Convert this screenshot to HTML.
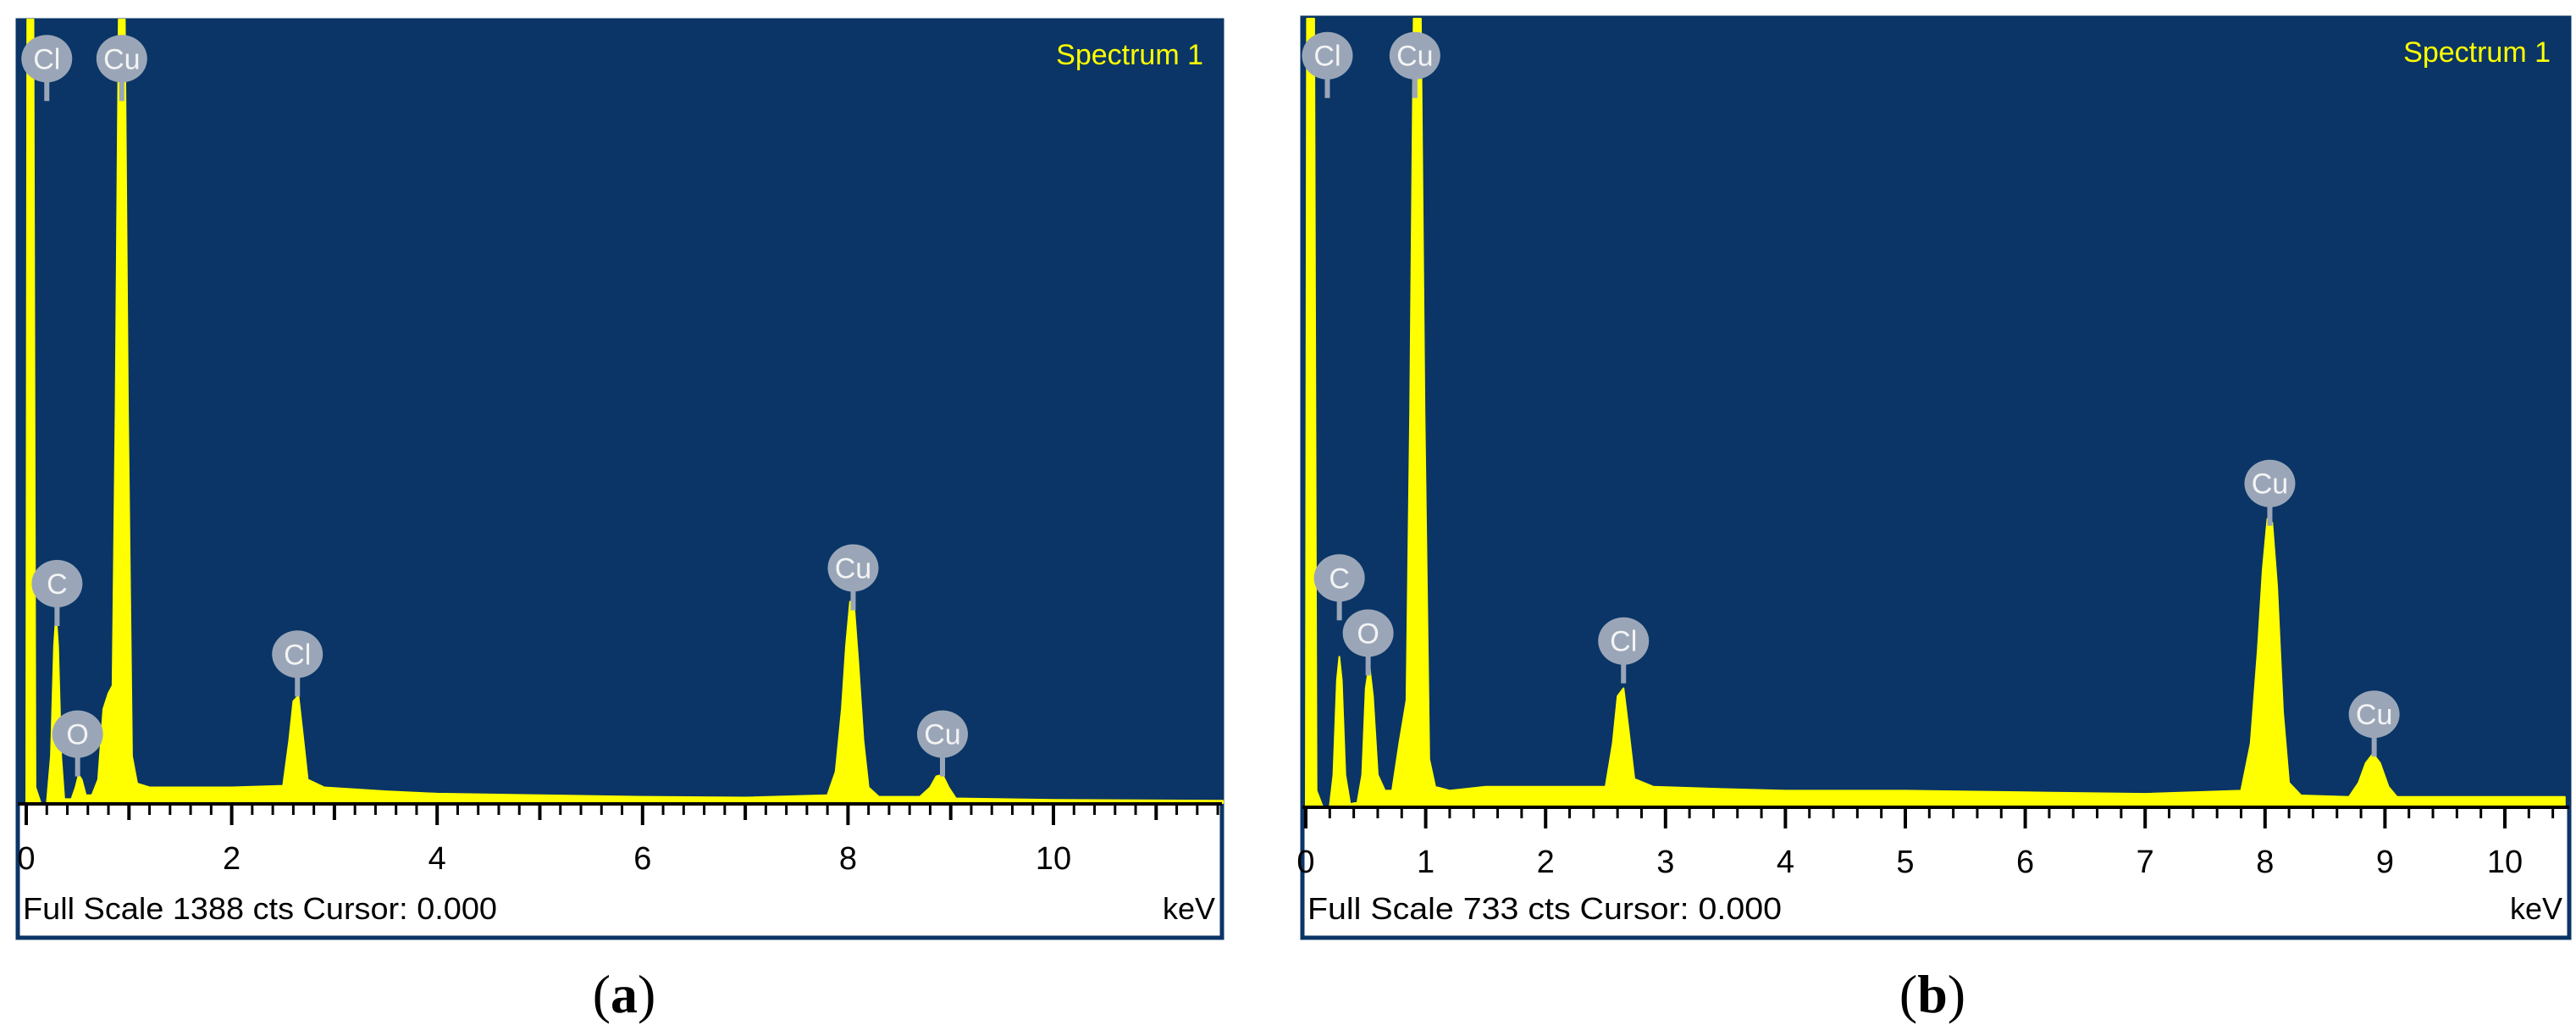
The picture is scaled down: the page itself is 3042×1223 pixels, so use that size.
<!DOCTYPE html>
<html><head><meta charset="utf-8"><style>
html,body{margin:0;padding:0;background:#fff;}
svg{display:block;}
</style></head><body>
<svg id="fig" width="3042" height="1223" viewBox="0 0 3042 1223" xmlns="http://www.w3.org/2000/svg"></svg>
<script>
// ---- Panel (a) data ----
const kevA = [0,0.01,0.07,0.09,0.14,0.2,0.24,0.27,0.29,0.31,0.34,0.37,0.44,0.48,0.51,0.54,0.58,0.64,0.7,0.75,0.8,0.84,0.87,0.9,0.96,0.99,1.03,1.08,1.2,2.0,2.5,2.56,2.6,2.65,2.69,2.74,2.9,3.5,4,5,6,7,7.8,7.88,7.94,7.98,8.02,8.06,8.1,8.15,8.2,8.3,8.7,8.8,8.86,8.92,8.98,9.05,10,11.65];
const cntA = [0,1,1,0.02,0,0,0.06,0.2,0.24,0.2,0.06,0.005,0.005,0.02,0.036,0.03,0.01,0.01,0.03,0.12,0.14,0.15,0.5,1,1,0.5,0.06,0.025,0.02,0.02,0.022,0.08,0.13,0.137,0.09,0.03,0.02,0.015,0.012,0.01,0.008,0.007,0.01,0.04,0.12,0.2,0.257,0.25,0.18,0.08,0.02,0.008,0.008,0.02,0.034,0.036,0.02,0.006,0.004,0.003];
const labElA = ["Cl","Cu","C","O","Cl","Cu","Cu"];
const labKevA = [0.2,0.93,0.3,0.5,2.64,8.05,8.92];
const labYA = [0.95,0.95,0.28,0.088,0.19,0.30,0.088];
const ticksA = [0,2,4,6,8,10];
// ---- Panel (b) data ----
const kevB = [0,0.01,0.07,0.09,0.14,0.2,0.23,0.26,0.28,0.3,0.33,0.37,0.43,0.47,0.5,0.53,0.56,0.6,0.66,0.72,0.78,0.84,0.87,0.9,0.96,0.99,1.03,1.08,1.2,1.5,2.0,2.5,2.56,2.6,2.65,2.69,2.74,2.9,3.5,4,5,6,7,7.8,7.88,7.94,7.98,8.02,8.06,8.1,8.15,8.2,8.3,8.7,8.78,8.84,8.9,8.96,9.03,9.1,10,10.5];
const cntB = [0,1,1,0.02,0,0,0.04,0.16,0.19,0.16,0.04,0.003,0.005,0.04,0.15,0.18,0.14,0.04,0.02,0.02,0.08,0.135,0.5,1,1,0.5,0.06,0.025,0.02,0.025,0.025,0.025,0.08,0.14,0.15,0.1,0.035,0.025,0.022,0.02,0.02,0.018,0.016,0.02,0.08,0.2,0.3,0.365,0.36,0.28,0.12,0.03,0.014,0.012,0.03,0.055,0.067,0.055,0.025,0.012,0.012,0.012];
const labElB = ["Cl","Cu","C","O","Cl","Cu","Cu"];
const labKevB = [0.18,0.91,0.28,0.52,2.65,8.04,8.91];
const labYB = [0.953,0.953,0.29,0.22,0.21,0.41,0.117];
const ticksB = [0,1,2,3,4,5,6,7,8,9,10];

const NS="http://www.w3.org/2000/svg";
const svg=document.getElementById('fig');
function mk(tag,attrs,parent){const e=document.createElementNS(NS,tag);for(const k in attrs)e.setAttribute(k,attrs[k]);(parent||svg).appendChild(e);return e;}

function panel(o){
  const g=mk('g',{});
  
  
  const x=v=>o.x0+(v)*o.kpx;
  const y=v=>o.base-v*o.h;
  const fr=mk('rect',{x:o.fx,y:o.fy,width:o.fw,height:o.fh,fill:'#fff',stroke:'#0a3566','stroke-width':5},g);
  
  
  const pl=mk('rect',{x:o.fx,y:o.fy,width:o.fw,height:o.base-o.fy,fill:'#0a3566'},g);
  
  
  let d='M'+x(o.kev[0])+','+o.base;
  for(let i=0;i<o.kev.length;i++){d+=' L'+x(o.kev[i]).toFixed(1)+','+y(o.cnt[i]).toFixed(1);}
  d+=' L'+x(o.kev[o.kev.length-1])+','+o.base+' Z';
  const sp=mk('path',{d:d,fill:'#ffff00',stroke:'#ffff00','stroke-width':2,'stroke-linejoin':'round'},g);
  
  
  const ax=mk('line',{x1:o.fx,x2:o.fx+o.fw,y1:o.base+1,y2:o.base+1,stroke:'#000','stroke-width':4},g);
  
  
  const n=Math.floor(o.kmax/0.2+1e-6);
  for(let i=0;i<=n;i++){
    const k=i*0.2; const major=Math.abs(k-Math.round(k))<1e-6;
    const len=major?(Math.round(k)%o.lstep===0?26:20):14;
    const t=mk('line',{x1:x(k),x2:x(k),y1:o.base,y2:o.base+len,stroke:'#000','stroke-width':major?4:3},g);
    
    
  }
  o.ticks.forEach(v=>{
    const t=mk('text',{x:x(v),y:o.base+78,'font-family':'Liberation Sans, sans-serif','font-size':38,'text-anchor':'middle',fill:'#000'},g);
    t.textContent=v;
    
    
  });
  const fs=mk('text',{x:o.fx+6,y:o.fy+o.fh-22,'font-family':'Liberation Sans, sans-serif','font-size':36,fill:'#000',textLength:o.fsw,lengthAdjust:'spacingAndGlyphs'},g);
  fs.textContent=o.fsText;
  
  
  const kv=mk('text',{x:o.fx+o.fw-8,y:o.fy+o.fh-22,'font-family':'Liberation Sans, sans-serif','font-size':36,'text-anchor':'end',fill:'#000'},g);
  kv.textContent='keV';
  
  
  const st=mk('text',{x:o.fx+o.fw-22,y:o.fy+52,'font-family':'Liberation Sans, sans-serif','font-size':34,'text-anchor':'end',fill:'#ffff00'},g);
  st.textContent='Spectrum 1';
  
  
  for(let i=0;i<o.labEl.length;i++){
    const cx=x(o.labKev[i]), cy=y(o.labY[i]);
    const lg=mk('g',{},g);
    
    
    mk('rect',{x:cx-3,y:cy+20,width:6,height:30,fill:'#9aa6b8'},lg);
    mk('ellipse',{cx:cx,cy:cy,rx:30,ry:28,fill:'#9aa6b8'},lg);
    const tt=mk('text',{x:cx,y:cy+12,'font-family':'Liberation Sans, sans-serif','font-size':34,'text-anchor':'middle',fill:'#f4f4f4'},lg);
    tt.textContent=o.labEl[i];
  }
  const cap=mk('text',{x:o.capx,y:1195,'font-family':'Liberation Serif, serif','font-size':64,'text-anchor':'middle',fill:'#000'},svg);
  cap.innerHTML='(<tspan font-weight="bold">'+o.cap+'</tspan>)';
  
  
}

panel({name:'panel-a',fx:21,fy:24,fw:1422,fh:1083,x0:31,kpx:121.3,base:948,h:925,kmax:11.6,lstep:2,
  kev:kevA,cnt:cntA,labEl:labElA,labKev:labKevA,labY:labYA,ticks:ticksA,fsText:'Full Scale 1388 cts Cursor: 0.000',fsw:560,capx:737,cap:'a'});
panel({name:'panel-b',fx:1538,fy:21,fw:1496,fh:1086,x0:1542,kpx:141.6,base:952,h:930,kmax:10.4,lstep:1,
  kev:kevB,cnt:cntB,labEl:labElB,labKev:labKevB,labY:labYB,ticks:ticksB,fsText:'Full Scale 733 cts Cursor: 0.000',fsw:560,capx:2282,cap:'b'});
</script>
</body></html>
